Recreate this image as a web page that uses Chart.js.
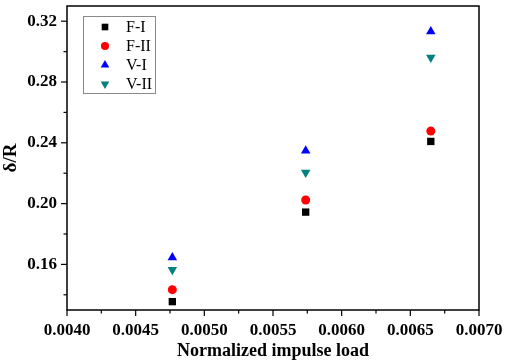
<!DOCTYPE html>
<html>
<head>
<meta charset="utf-8">
<script src="https://cdn.jsdelivr.net/npm/chart.js@4/dist/chart.umd.min.js"></script>
<style>
  html, body { margin: 0; padding: 0; background: #fff; }
  #wrap { width: 505px; height: 362px; position: relative; }
</style>
</head>
<body>
<div id="wrap"><canvas id="chart"></canvas></div>
<script>
// data
const loads = [0.004767, 0.005738, 0.006649];
const fI = [0.1355, 0.1944, 0.2409];
const fII = [0.1434, 0.2024, 0.2477];
const vI = [0.1646, 0.2348, 0.3132];
const vII = [0.1565, 0.2205, 0.2962];
const xTicks = [0.0040, 0.0045, 0.0050, 0.0055, 0.0060, 0.0065, 0.0070];
const yTicks = [0.16, 0.20, 0.24, 0.28, 0.32];
const seriesNames = ["F-I", "F-II", "V-I", "V-II"];

const serif = "'Liberation Serif', 'Times New Roman', serif";

function pts(ys) {
  return loads.map((x, i) => ({ x: x, y: ys[i] }));
}

// marker drawing for the legend
function marker(ctx, style, rot, x, y, r, color) {
  ctx.save();
  ctx.fillStyle = color;
  ctx.beginPath();
  if (style === "rect") {
    const s = Math.SQRT1_2 * r;
    ctx.rect(x - s, y - s, 2 * s, 2 * s);
  } else if (style === "circle") {
    ctx.arc(x, y, r, 0, Math.PI * 2);
  } else {
    const dir = rot === 180 ? -1 : 1;
    const h = r * 1.5;
    const w = r * Math.sqrt(3);
    ctx.moveTo(x, y - dir * r);
    ctx.lineTo(x - w / 2, y - dir * (r - h));
    ctx.lineTo(x + w / 2, y - dir * (r - h));
    ctx.closePath();
  }
  ctx.fill();
  ctx.restore();
}

const frame = {
  id: "frame",
  afterDraw(chart) {
    const { ctx, chartArea: a, scales } = chart;
    ctx.save();
    ctx.strokeStyle = "#000";
    ctx.lineWidth = 1.5;
    ctx.strokeRect(a.left, a.top, a.right - a.left, a.bottom - a.top);
    ctx.lineWidth = 1.2;
    // x ticks, major + minor
    for (let v = 0.0040; v <= 0.00701; v += 0.00025) {
      const px = scales.x.getPixelForValue(v);
      const major = Math.abs(Math.round(v / 0.0005) * 0.0005 - v) < 1e-7;
      ctx.beginPath();
      ctx.moveTo(px, a.bottom);
      ctx.lineTo(px, a.bottom + (major ? 6 : 3.5));
      ctx.stroke();
    }
    // y ticks
    for (let v = 0.14; v <= 0.3301; v += 0.02) {
      const py = scales.y.getPixelForValue(v);
      const major = Math.round(v * 100) % 4 === 0;
      ctx.beginPath();
      ctx.moveTo(a.left, py);
      ctx.lineTo(a.left - (major ? 6 : 3.5), py);
      ctx.stroke();
    }
    // legend box
    const lx = 83, ly = 16, lw = 72, lh = 77;
    ctx.strokeStyle = "#8a8a8a";
    ctx.lineWidth = 1;
    ctx.strokeRect(lx + 0.5, ly + 0.5, lw, lh);
    ctx.font = "16px " + serif;
    ctx.fillStyle = "#000";
    ctx.textBaseline = "middle";
    chart.data.datasets.forEach((ds, i) => {
      const yy = 27 + i * 19;
      marker(ctx, ds.pointStyle, ds.pointRotation, 105, yy, ds.pointRadius * 0.9, ds.backgroundColor);
      ctx.fillText(ds.label, 126, yy + 1);
    });
    ctx.restore();
  }
};

function ds(label, data, color, style, r, rot) {
  return {
    label: label,
    data: pts(data),
    backgroundColor: color,
    borderColor: color,
    borderWidth: 0,
    pointStyle: style,
    pointRadius: r,
    pointHoverRadius: r,
    pointRotation: rot || 0,
    showLine: false
  };
}

new Chart(document.getElementById("chart"), {
  type: "scatter",
  data: {
    datasets: [
      ds(seriesNames[0], fI, "#000000", "rect", 5.2),
      ds(seriesNames[1], fII, "#ff0000", "circle", 4.5),
      ds(seriesNames[2], vI, "#0000ff", "triangle", 5.5),
      ds(seriesNames[3], vII, "#008080", "triangle", 5.5, 180)
    ]
  },
  options: {
    responsive: true,
    maintainAspectRatio: false,
    animation: false,
    layout: { padding: { top: 6, right: 26, left: 0, bottom: 0 } },
    plugins: { legend: { display: false }, tooltip: { enabled: false } },
    scales: {
      x: {
        type: "linear",
        min: 0.0040,
        max: 0.0070,
        afterBuildTicks: s => { s.ticks = xTicks.map(v => ({ value: v })); },
        afterFit: s => { s.height = 52; s.paddingLeft = 0; s.paddingRight = 0; },
        grid: { display: false, drawTicks: false },
        border: { display: false },
        ticks: {
          padding: 10,
          color: "#000",
          maxRotation: 0,
          font: { family: serif, size: 17, weight: "bold" },
          callback: v => v.toFixed(4)
        },
        title: {
          display: true,
          text: "Normalized impulse load",
          color: "#000",
          padding: { top: 0, bottom: 0 },
          font: { family: serif, size: 18, weight: "bold" }
        }
      },
      y: {
        type: "linear",
        min: 0.13,
        max: 0.33,
        afterBuildTicks: s => { s.ticks = yTicks.map(v => ({ value: v })); },
        afterFit: s => { s.width = 67; s.paddingTop = 0; s.paddingBottom = 0; },
        grid: { display: false, drawTicks: false },
        border: { display: false },
        ticks: {
          padding: 10,
          color: "#000",
          font: { family: serif, size: 17, weight: "bold" },
          callback: v => v.toFixed(2)
        },
        title: {
          display: true,
          text: "δ/R",
          color: "#000",
          padding: { top: 0, bottom: 0 },
          font: { family: serif, size: 19, weight: "bold" }
        }
      }
    }
  },
  plugins: [frame]
});
</script>
</body>
</html>
